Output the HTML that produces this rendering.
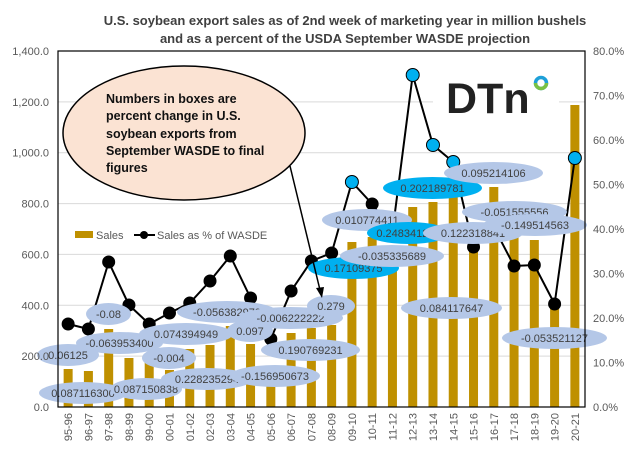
<!DOCTYPE html>
<html><head><meta charset="utf-8"><style>
html,body{margin:0;padding:0;background:#fff;}
svg{display:block;font-family:"Liberation Sans",Arial,sans-serif;}
</style></head><body>
<svg id="s" width="640" height="460" viewBox="0 0 640 460" xmlns="http://www.w3.org/2000/svg">
<rect width="640" height="460" fill="#fff"/>
<text x="345" y="25" text-anchor="middle" font-size="13" font-weight="bold" fill="#404040">U.S. soybean export sales as of 2nd week of marketing year in million bushels</text>
<text x="345" y="43" text-anchor="middle" font-size="13" font-weight="bold" fill="#404040">and as a percent of the USDA September WASDE projection</text>
<g id="grid"></g>
<g id="bars"></g>
<rect x="433" y="70" width="126" height="50" fill="#fff"/>
<text x="446" y="113" font-size="43" font-weight="bold" fill="#222" letter-spacing="0">DTn</text>
<circle cx="541" cy="83" r="5.5" fill="none" stroke="#1ea0d8" stroke-width="3.5"/>
<path d="M535.5 83 A5.5 5.5 0 0 0 546.5 83" fill="none" stroke="#7ac143" stroke-width="3.5"/>
<g id="line"></g>
<g id="ell"></g>
<ellipse cx="184" cy="133" rx="121" ry="67" fill="#fbe3d3" stroke="#000" stroke-width="1.5"/>
<g font-size="12.5" font-weight="bold" fill="#111">
<text x="106" y="103">Numbers in boxes are</text>
<text x="106" y="120">percent change in U.S.</text>
<text x="106" y="138">soybean exports from</text>
<text x="106" y="155">September WASDE to final</text>
<text x="106" y="172">figures</text>
</g>
<line x1="290" y1="166" x2="320" y2="290" stroke="#000" stroke-width="1.5"/>
<path d="M322 298 L316 288 L324 287 Z" fill="#000"/>
<g id="axes"></g>
<g font-size="11" fill="#595959">
<rect x="75" y="231" width="18" height="7" fill="#bf9000"/>
<text x="96" y="239">Sales</text>
<line x1="134" y1="235" x2="155" y2="235" stroke="#000" stroke-width="2"/>
<circle cx="144" cy="235" r="4" fill="#000"/>
<text x="157" y="239">Sales as % of WASDE</text>
</g>
</svg>
<script>
const NS="http://www.w3.org/2000/svg";
function el(p,t,a,txt){const e=document.createElementNS(NS,t);for(const k in a)e.setAttribute(k,a[k]);if(txt!==undefined)e.textContent=txt;document.getElementById(p).appendChild(e);return e;}
const L=58,R=585,T=51,B=407,W=(R-L)/26;
const cats=["95-96","96-97","97-98","98-99","99-00","00-01","01-02","02-03","03-04","04-05","05-06","06-07","07-08","08-09","09-10","10-11","11-12","12-13","13-14","14-15","15-16","16-17","17-18","18-19","19-20","20-21"];
const barTop=[369,371,329,358,360,370,349,345,326,344,370,333,328,325,242,237,250,207,202,197,240,187,233,240,307,105];
const pts=[324,329,262,305,324,313,303,281,256,298,339,291,261,253,182,204,232,75,145,162,247,227,266,265,304,158];
const blue=[14,17,18,19,25];
for(let i=1;i<7;i++){const y=B-i*(B-T)/7;el("grid","line",{x1:L,x2:R,y1:y,y2:y,stroke:"#d9d9d9","stroke-width":1});}
for(let i=0;i<=7;i++){const y=B-i*(B-T)/7;
 el("axes","text",{x:49,y:y+4,"text-anchor":"end","font-size":11,fill:"#595959"},(i*200).toLocaleString("en-US")+".0");}
for(let i=0;i<=8;i++){const y=B-i*(B-T)/8;
 el("axes","text",{x:593,y:y+4,"font-size":11,fill:"#595959"},(i*10)+".0%");}
el("axes","rect",{x:L,y:T,width:R-L,height:B-T,fill:"none",stroke:"#000","stroke-width":1.2});
cats.forEach((c,i)=>{const cx=L+W*(i+0.5);
 el("bars","rect",{x:cx-4.5,y:barTop[i],width:9,height:B-barTop[i],fill:"#bf9000"});
 el("axes","text",{x:0,y:0,transform:`translate(${cx+4},${B+6}) rotate(-90)`,"text-anchor":"end","font-size":11,fill:"#595959"},c);});
el("line","polyline",{points:pts.map((y,i)=>(L+W*(i+0.5))+","+y).join(" "),fill:"none",stroke:"#000","stroke-width":2});
pts.forEach((y,i)=>{const b=blue.includes(i);el("line","circle",{cx:L+W*(i+0.5),cy:y,r:b?6.5:6,fill:b?"#00b0f0":"#000",stroke:"#000","stroke-width":1});});
const E=[
[37,99,355,"0.06125",0],[86,131,314,"-0.08",0],[76,163,343,"-0.063953400",0],[39,127,393,"0.087116300",0],
[110,182,389,"0.087150838",0],[177,277,312,"-0.056382979",0],[139,233,334,"0.074394949",0],[142,196,358,"-0.004",0],
[161,253,379,"0.228235294",0],[238,343,318,"-0.006222222",0],[227,273,331,"0.097",0],[230,320,376,"-0.156950673",0],
[261,360,350,"0.190769231",0],[308,399,268,"0.17109375",1],[307,355,306,"0.279",0],[322,412,220,"0.010774411",0],
[367,450,233,"0.248341232",1],[340,444,256,"-0.035335689",0],[383,482,188,"0.202189781",1],[423,523,233,"0.122318841",0],
[444,543,173,"0.095214106",0],[462,567,212,"-0.051555556",0],[483,587,225,"-0.149514563",0],[401,502,308,"0.084117647",0],
[502,607,338,"-0.053521127",0]];
E.forEach(([a,b,y,t,bl])=>{const g=document.createElementNS(NS,"g");document.getElementById("ell").appendChild(g);
 const cx=(a+b)/2,rx=(b-a)/2;
 const e1=document.createElementNS(NS,"ellipse");[["cx",cx],["cy",y],["rx",rx],["ry",11],["fill",bl?"#00b0f0":"#b4c7e7"]].forEach(([k,v])=>e1.setAttribute(k,v));g.appendChild(e1);
 const tx=document.createElementNS(NS,"text");[["x",cx],["y",y+4],["text-anchor","middle"],["font-size",11],["fill","#404040"]].forEach(([k,v])=>tx.setAttribute(k,v));tx.textContent=t;g.appendChild(tx);});
</script>
</body></html>
